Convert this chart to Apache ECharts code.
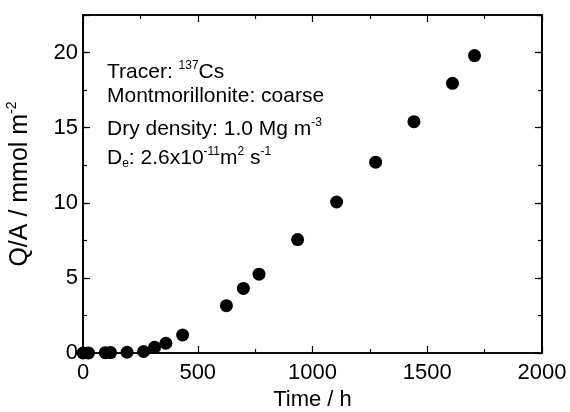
<!DOCTYPE html>
<html><head><meta charset="utf-8">
<script src="https://cdn.jsdelivr.net/npm/echarts@6/dist/echarts.min.js"></script>
<style>html,body{margin:0;padding:0;background:#fff}#c{width:570px;height:412px}</style>
</head><body><div id="c"></div>
<script>
const timeH = [0, 24, 97, 120, 192, 264, 312, 361, 434, 625, 699, 767, 935, 1105, 1275, 1442, 1610, 1706];
const qa    = [0, 0, 0.02, 0.03, 0.05, 0.1, 0.38, 0.65, 1.2, 3.15, 4.3, 5.25, 7.55, 10.05, 12.7, 15.4, 17.95, 19.8];
const xTicks = [0, 500, 1000, 1500, 2000];
const yTicks = [0, 5, 10, 15, 20];

const FONT = 'Liberation Sans, Arial, sans-serif';
const data = timeH.map((t, i) => [t, qa[i]]);
const chart = echarts.init(document.getElementById('c'), null, {renderer: 'canvas'});

const baseX = {
  type: 'value', min: 0, max: 2000, interval: 500,
  axisLine: {show: true, lineStyle: {color: '#000', width: 1.5}, onZero: false},
  splitLine: {show: false},
};
const baseY = {
  type: 'value', min: 0, max: 22.5,
  axisLine: {show: true, lineStyle: {color: '#000', width: 1.5}, onZero: false},
  splitLine: {show: false},
};
const N = {fontFamily: FONT, fontSize: 21, fill: '#000', lineHeight: 24};
const S = {fontFamily: FONT, fontSize: 12, fill: '#000', verticalAlign: 'top', lineHeight: 24};
const B = {fontFamily: FONT, fontSize: 12, fill: '#000', verticalAlign: 'bottom', lineHeight: 24};

chart.setOption({
  animation: false,
  backgroundColor: '#fff',
  grid: {left: 83, right: 28, top: 15, bottom: 59, show: true, borderColor: '#000', borderWidth: 1.5,
         backgroundColor: 'transparent', containLabel: false, outerBoundsMode: 'none'},
  xAxis: [
    Object.assign({}, baseX, {
      position: 'bottom',
      name: 'Time / h', nameLocation: 'middle', nameGap: 36,
      nameTextStyle: {fontFamily: FONT, fontSize: 22, color: '#000'},
      axisTick: {show: true, inside: true, length: 7, lineStyle: {color: '#000', width: 1.2}},
      minorTick: {show: true, splitNumber: 2, length: 4, lineStyle: {color: '#000', width: 1.2}},
      axisLabel: {show: true, fontFamily: FONT, fontSize: 22, color: '#000', margin: 9,
        formatter: v => xTicks.indexOf(v) >= 0 ? String(v) : ''}
    }),
    Object.assign({}, baseX, {
      position: 'top',
      axisTick: {show: true, inside: true, length: 7, lineStyle: {color: '#000', width: 1.2}},
      minorTick: {show: true, splitNumber: 2, length: 4, lineStyle: {color: '#000', width: 1.2}},
      axisLabel: {show: false}
    })
  ],
  yAxis: [
    Object.assign({}, baseY, {
      position: 'left', interval: 5,
      name: '{a|Q/A / mmol m}{s|-2}', nameLocation: 'middle', nameGap: 48,
      nameTextStyle: {fontFamily: FONT, fontSize: 25, color: '#000',
        rich: {a: {fontFamily: FONT, fontSize: 25, color: '#000', lineHeight: 30},
               s: {fontFamily: FONT, fontSize: 14, color: '#000', verticalAlign: 'top', lineHeight: 30}}},
      axisTick: {show: true, inside: true, length: 7, lineStyle: {color: '#000', width: 1.2}},
      axisLabel: {show: true, fontFamily: FONT, fontSize: 22, color: '#000', margin: 5,
        formatter: v => yTicks.indexOf(v) >= 0 ? String(v) : ''}
    }),
    Object.assign({}, baseY, {
      position: 'left', interval: 2.5,
      axisTick: {show: true, inside: true, length: 4, lineStyle: {color: '#000', width: 1.2}},
      axisLabel: {show: false}
    }),
    Object.assign({}, baseY, {
      position: 'right', interval: 5,
      axisTick: {show: true, inside: true, length: 7, lineStyle: {color: '#000', width: 1.2}},
      axisLabel: {show: false}
    }),
    Object.assign({}, baseY, {
      position: 'right', interval: 2.5,
      axisTick: {show: true, inside: true, length: 4, lineStyle: {color: '#000', width: 1.2}},
      axisLabel: {show: false}
    })
  ],
  graphic: [
    {type: 'text', left: 107, top: 60, style: {
      text: '{n|Tracer: }{s|137}{n|Cs}', rich: {n: N, s: S}}},
    {type: 'text', left: 107, top: 86, style: {
      text: '{n|Montmorillonite: coarse}', rich: {n: N}}},
    {type: 'text', left: 107, top: 117, style: {
      text: '{n|Dry density: 1.0 Mg m}{s|-3}', rich: {n: N, s: S}}},
    {type: 'text', left: 107, top: 146, style: {
      text: '{n|D}{b|e}{n|: 2.6x10}{s|-11}{n|m}{s|2}{n| s}{s|-1}', rich: {n: N, s: S, b: B}}}
  ],
  series: [{
    type: 'scatter', xAxisIndex: 0, yAxisIndex: 0,
    data: data, symbol: 'circle', symbolSize: 13,
    itemStyle: {color: '#000', opacity: 1},
    clip: false
  }]
});
</script></body></html>
